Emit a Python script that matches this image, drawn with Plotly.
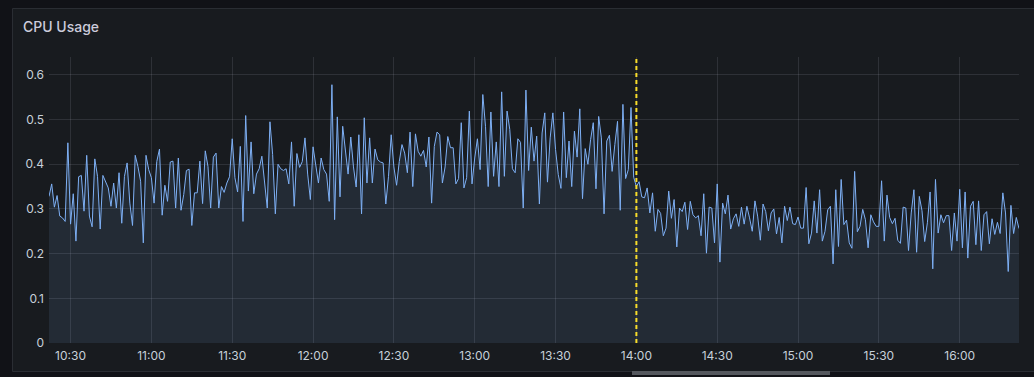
import plotly.graph_objects as go
import pandas as pd

# CPU usage samples, one per minute starting at 10:22
seg1 = [0.328,0.356,0.304,0.33,0.284,0.28,0.272,0.448,0.266,0.334,
        0.228,0.372,0.375,0.295,0.42,0.284,0.26,0.412,0.373,0.255,
        0.375,0.362,0.347,0.306,0.358,0.302,0.381,0.268,0.373,0.403,
        0.313,0.263,0.42,0.395,0.362,0.224,0.42,0.388,0.37,0.313,
        0.406,0.434,0.286,0.353,0.317,0.405,0.407,0.302,0.414,0.297,
        0.332,0.386,0.389,0.263,0.336,0.336,0.407,0.312,0.43,0.395,
        0.302]
seg2 = [0.416,0.425,0.302,0.35,0.337,0.358,0.372,0.457,0.37,0.338,
        0.44,0.272,0.509,0.34,0.45,0.334,0.378,0.39,0.418,0.358,
        0.302,0.495,0.422,0.289,0.40,0.39,0.386,0.39,0.356,0.45,
        0.306,0.424,0.393,0.406,0.459,0.378,0.321,0.439,0.399,0.358,
        0.414,0.388,0.378,0.317,0.578,0.276,0.506,0.327,0.485,0.425,
        0.378,0.461,0.394,0.349,0.466,0.289,0.504,0.358,0.459]
seg3 = [0.358,0.434,0.41,0.405,0.403,0.311,0.373,0.466,0.394,0.353,
        0.406,0.444,0.425,0.381,0.472,0.35,0.468,0.429,0.418,0.431,
        0.394,0.461,0.313,0.44,0.472,0.466,0.358,0.394,0.462,0.437,
        0.437,0.356,0.368,0.493,0.347,0.37,0.519,0.356,0.414,0.457,
        0.388,0.556,0.485,0.35,0.517,0.373,0.45,0.35,0.562,0.373,
        0.519,0.478,0.39,0.381,0.457,0.449,0.302,0.566,0.386]
seg4 = [0.483,0.407,0.463,0.311,0.47,0.515,0.36,0.459,0.515,0.433,
        0.377,0.346,0.517,0.37,0.452,0.35,0.474,0.416,0.524,0.323,
        0.435,0.40,0.455,0.493,0.345,0.507,0.459,0.289,0.452,0.465,
        0.384,0.444,0.496,0.297,0.534,0.368,0.388,0.527,0.371,0.35,
        0.361,0.327,0.325,0.347,0.291,0.336,0.25,0.299,0.29,0.24,
        0.257,0.34,0.279,0.321,0.215,0.302,0.294,0.315,0.254,0.317]
seg5 = [0.287,0.28,0.285,0.24,0.334,0.201,0.304,0.302,0.224,0.356,
        0.181,0.313,0.289,0.331,0.255,0.278,0.289,0.261,0.304,0.266,
        0.306,0.28,0.25,0.318,0.284,0.23,0.311,0.294,0.251,0.291,
        0.30,0.244,0.281,0.224,0.306,0.274,0.304,0.267,0.265,0.282,
        0.257,0.257,0.348,0.222,0.246,0.318,0.246,0.343,0.228,0.25,
        0.298,0.306,0.177,0.343,0.216,0.366,0.265,0.275,0.224]
seg6 = [0.212,0.384,0.249,0.261,0.299,0.276,0.213,0.287,0.271,0.261,
        0.261,0.363,0.228,0.331,0.281,0.267,0.279,0.23,0.223,0.304,
        0.302,0.207,0.291,0.343,0.203,0.328,0.296,0.227,0.269,0.338,
        0.166,0.366,0.246,0.287,0.269,0.285,0.285,0.207,0.291,0.228,
        0.344,0.213,0.338,0.19,0.306,0.317,0.22,0.318,0.207,0.287,
        0.294,0.222,0.278,0.243,0.27,0.245,0.336,0.291,0.16,0.308,
        0.245,0.281,0.256]

cpu = seg1 + seg2 + seg3 + seg4 + seg5 + seg6
start_time = "2024-01-01 10:22"
times = pd.date_range(start_time, periods=len(cpu), freq="min")
event_time = pd.Timestamp("2024-01-01 14:00")
y_ticks = [0, 0.1, 0.2, 0.3, 0.4, 0.5, 0.6]
y_tick_labels = ["0", "0.1", "0.2", "0.3", "0.4", "0.5", "0.6"]
title_text = "CPU Usage"

W, H = 1034, 377
L, R, T, B = 49, 15, 57, 34
pw, ph = W - L - R, H - T - B

def px(x):
    return (x - L) / pw

def py(y):
    return (H - B - y) / ph

fig = go.Figure()
fig.add_trace(go.Scatter(
    x=times, y=cpu, mode="lines",
    line=dict(color="#7eb0f5", width=1),
    fill="tozeroy", fillcolor="rgba(138,184,255,0.10)",
    hoverinfo="skip", showlegend=False,
))
# annotation marker triangle at event time
fig.add_trace(go.Scatter(
    x=[event_time], y=[-0.006], mode="markers",
    marker=dict(symbol="triangle-up", size=10, color="#fade2a", line=dict(width=0)),
    cliponaxis=False, hoverinfo="skip", showlegend=False,
))

shapes = [
    # panel background and border
    dict(type="rect", xref="paper", yref="paper", x0=px(12.5), x1=px(1045),
         y0=py(371.5), y1=py(8.5), fillcolor="#181b1f",
         line=dict(color="#2a2d33", width=1), layer="below"),
    # event dashed line
    dict(type="line", xref="x", yref="paper", x0=event_time, x1=event_time,
         y0=0, y1=1, line=dict(color="#fade2a", width=2, dash="4px,3px"), layer="above"),
    # scrollbar
    dict(type="rect", xref="paper", yref="paper", x0=px(632), x1=px(830),
         y0=py(375), y1=py(371), fillcolor="#55585e", line=dict(width=0), layer="above"),
]

fig.update_layout(
    width=W, height=H,
    margin=dict(l=L, r=R, t=T, b=B),
    paper_bgcolor="#111217",
    plot_bgcolor="rgba(0,0,0,0)",
    font=dict(family="Inter, Roboto, sans-serif", size=12, color="#c7d0d9"),
    shapes=shapes,
    showlegend=False,
    annotations=[dict(
        text=title_text, xref="paper", yref="paper", x=px(21), y=py(26),
        xanchor="left", yanchor="middle", showarrow=False,
        font=dict(family="Inter, Roboto, sans-serif", size=14, color="#ccccdc", weight=500),
    )],
)
fig.update_xaxes(
    range=[times[0], times[-1]],
    type="date", tickformat="%H:%M", dtick=30 * 60 * 1000,
    tick0="2024-01-01 10:30",
    showgrid=True, gridcolor="rgba(204,204,220,0.13)", gridwidth=1,
    zeroline=False, showline=False, ticks="",
    ticklabelstandoff=4,
    tickfont=dict(size=12, color="#c7d0d9"),
)
fig.update_yaxes(
    range=[0, 0.64],
    tickvals=y_ticks, ticktext=y_tick_labels,
    showgrid=True, gridcolor="rgba(204,204,220,0.13)", gridwidth=1,
    zeroline=False, showline=False, ticks="",
    ticklabelstandoff=4,
    tickfont=dict(size=12, color="#c7d0d9"),
)

fig.write_html("out.html")
